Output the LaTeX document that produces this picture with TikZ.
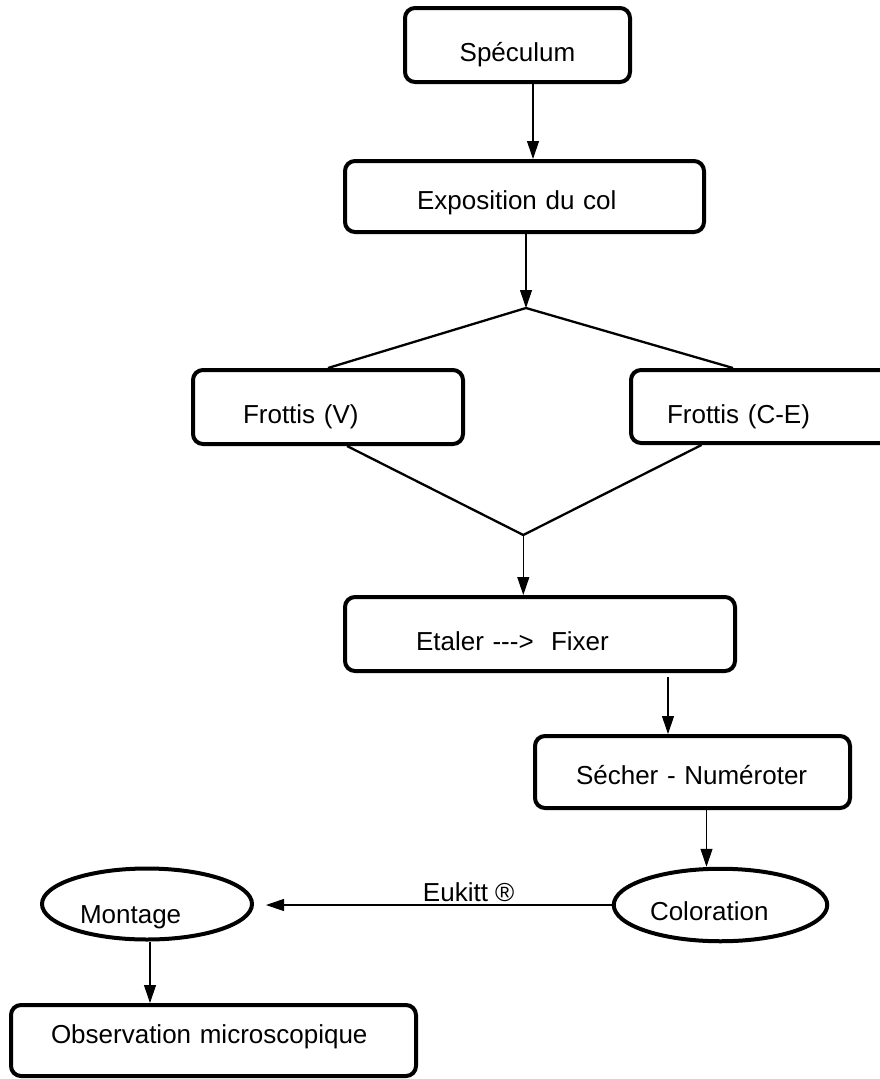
\documentclass[tikz,border=0pt]{standalone}
\usepackage{fontspec}
\setmainfont{Liberation Sans}
\usetikzlibrary{positioning,calc,shapes.geometric,arrows.meta}

\begin{document}
\begin{tikzpicture}[x=1pt, y=-1pt, font=\fontsize{26}{31}\selectfont,
    stepbox/.style={draw, line width=4pt, rounded corners=10pt, align=left,
      inner sep=0pt, text depth=0pt},
    stepoval/.style={draw, ellipse, line width=4pt, align=left,
      inner sep=0pt, text depth=0pt},
    flow/.style={-{Triangle[length=18pt, width=12pt]}, line width=1.1pt},
    branch/.style={line width=2.3pt}]
  \useasboundingbox (0,0) rectangle (879,1079);

        \node[stepbox, align=center, text width=200pt, text height=32pt,
          minimum width=225pt, minimum height=74pt] (spec) at (517.5,45)
          {Spéculum};
        \node[stepbox, text width=215pt, text height=25pt,
          minimum width=359pt, minimum height=71pt] (expo) at (524.5,196.5)
          {Exposition du col};
        \node[stepbox, text width=170pt, text height=32pt,
          minimum width=270pt, minimum height=74pt] (frotV) at (328,407)
          {Frottis (V)};
        \node[stepbox, text width=194pt, text height=33pt,
          minimum width=266pt, minimum height=73pt] (frotCE) at (764,406.5)
          {Frottis (C-E)};
        \node[stepbox, text width=248pt, text height=32pt,
          minimum width=390pt, minimum height=74pt] (etaler) at (540,634)
          {Etaler -{}-{}->~~Fixer};
        \node[stepbox, text width=233pt, text height=24pt,
          minimum width=315pt, minimum height=72pt] (secher) at (692.5,772)
          {Sécher - Numéroter};
        \node[stepoval, text width=141pt, text height=30pt,
          minimum width=213.5pt, minimum height=72.5pt] (color) at (720.5,905)
          {Coloration};
        \node[stepoval, text width=134pt, text height=38pt,
          minimum width=210pt, minimum height=71pt] (montage) at (147,904)
          {Montage};
        \node[stepbox, text width=325pt, text height=6pt,
          minimum width=405pt, minimum height=71pt] (obs) at (213.5,1040.5)
          {Observation microscopique};

        % split and merge of the two smears
        \coordinate (split) at (526,308);
        \coordinate (merge) at (523.3,535);

        \draw[flow] ([xshift=15.5pt]spec.south) -- ([xshift=15.5pt]spec.south |- expo.north);
        \draw[flow] (expo.south -| split) -- (split);
        \draw[branch] (split) -- (frotV.north);
        \draw[branch] (split) -- ([xshift=-31pt]frotCE.north);
        \draw[branch] ([xshift=19pt]frotV.south) -- (merge) -- ([xshift=-62.5pt]frotCE.south);
        \draw[flow] (merge) -- (merge |- etaler.north);
        \draw[flow] ([xshift=128pt, yshift=-4pt]etaler.south) -- ([xshift=128pt]etaler.south |- secher.north);
        \draw[flow] ([xshift=14pt]secher.south) -- ([xshift=14pt]secher.south |- color.north);
        \draw[flow, shorten >=12pt] (color.west) --
          node[pos=0.4, above, inner sep=3pt] {Eukitt ®} (color.west -| montage.east);
        \draw[flow] ([xshift=3pt]montage.south) -- ([xshift=3pt]montage.south |- obs.north);
      \end{tikzpicture}
\end{document}
